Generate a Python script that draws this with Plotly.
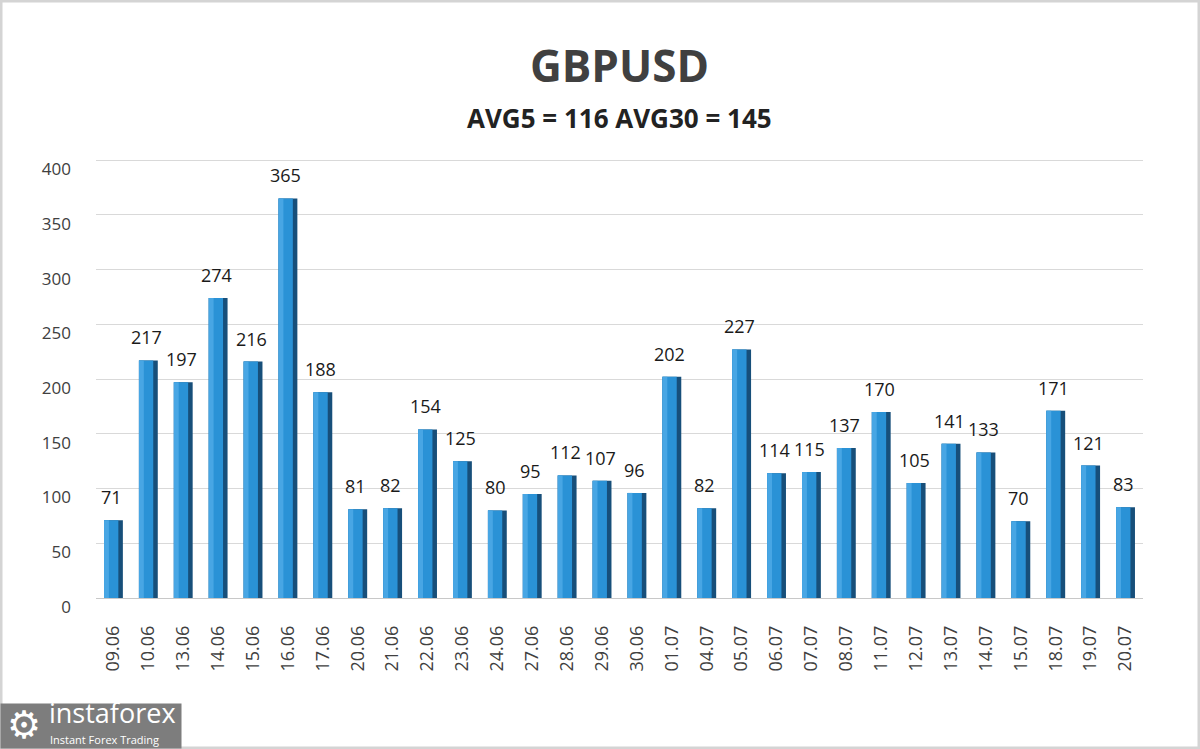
import plotly.graph_objects as go

dates = ["09.06", "10.06", "13.06", "14.06", "15.06", "16.06", "17.06", "20.06", "21.06", "22.06",
         "23.06", "24.06", "27.06", "28.06", "29.06", "30.06", "01.07", "04.07", "05.07", "06.07",
         "07.07", "08.07", "11.07", "12.07", "13.07", "14.07", "15.07", "18.07", "19.07", "20.07"]
values = [71, 217, 197, 274, 216, 365, 188, 81, 82, 154,
          125, 80, 95, 112, 107, 96, 202, 82, 227, 114,
          115, 137, 170, 105, 141, 133, 70, 171, 121, 83]
title_text = "GBPUSD"
subtitle_text = "AVG5 = 116 AVG30 = 145"
y_ticks = [0, 50, 100, 150, 200, 250, 300, 350, 400]

W, H = 1200, 749
L, R, T, B = 96, 57, 159, 151
PW, PH = W - L - R, H - T - B
FONT = "Open Sans, Arial"

fig = go.Figure()
# dark side face (3D look)
fig.add_trace(go.Bar(x=dates, y=values, width=0.54, offset=-0.27,
                     marker=dict(color="#174f7a", line=dict(width=0)),
                     hoverinfo="skip", showlegend=False))
# front face
fig.add_trace(go.Bar(x=dates, y=values, width=0.41, offset=-0.27,
                     marker=dict(color="#2a92d6", line=dict(width=0)),
                     showlegend=False))
# light highlight on left of front face
fig.add_trace(go.Bar(x=dates, y=values, width=0.14, offset=-0.27,
                     marker=dict(color="#48a6e4", line=dict(width=0)),
                     hoverinfo="skip", showlegend=False))

annotations = []
for i, v in enumerate(values):
    annotations.append(dict(x=i, y=v, xref="x", yref="y", text=str(v), showarrow=False,
                            xanchor="center", yanchor="bottom", yshift=9, xshift=-2,
                            font=dict(family=FONT, size=18, color="#1a1a1a")))

xl = -L / PW
yb = -B / PH
annotations += [
    dict(text=subtitle_text, xref="paper", yref="paper", x=0.5,
         y=(H - B - 118) / PH, yanchor="middle", showarrow=False, xanchor="center",
         font=dict(family=FONT, size=26, color="#222222", weight="bold")),
    # logo box
    dict(text=" ", xref="paper", yref="paper", x=xl, y=yb, xanchor="left", yanchor="bottom",
         showarrow=False, width=180, height=44, bgcolor="#7d7d7d", borderpad=0,
         font=dict(family=FONT, size=10, color="white")),
    dict(text="⚙", xref="paper", yref="paper", x=xl, y=yb, xanchor="center", yanchor="middle",
         xshift=24, yshift=24, showarrow=False,
         font=dict(family="DejaVu Sans", size=38, color="white")),
    dict(text="instaforex", xref="paper", yref="paper", x=xl, y=yb, xanchor="left", yanchor="bottom",
         xshift=47, yshift=16, showarrow=False,
         font=dict(family=FONT, size=27, color="white")),
    dict(text="Instant Forex Trading", xref="paper", yref="paper", x=xl, y=yb, xanchor="left",
         yanchor="bottom", xshift=48, yshift=0, showarrow=False,
         font=dict(family=FONT, size=11, color="white")),
]

fig.update_layout(
    barmode="overlay",
    width=W, height=H,
    paper_bgcolor="white", plot_bgcolor="white",
    margin=dict(l=L, r=R, t=T, b=B),
    title=dict(text=title_text, x=0.5, xref="paper", xanchor="center", y=1 - 67 / H, yanchor="middle",
               font=dict(family=FONT, size=44, color="#404040", weight="bold")),
    xaxis=dict(type="category", tickangle=-90, showgrid=False, showline=False, ticks="",
               tickfont=dict(family=FONT, size=18, color="#404040"),
               range=[-0.5, 29.5], ticklabelstandoff=23),
    yaxis=dict(range=[0, 401], tickvals=y_ticks, showgrid=True, gridcolor="#d9d9d9",
               gridwidth=1, zeroline=True, zerolinecolor="#c8c8c8", zerolinewidth=1,
               tickfont=dict(family=FONT, size=17, color="#404040"),
               ticklabelstandoff=24, ticklabelshift=9),
    annotations=annotations,
    shapes=[dict(type="rect", xref="paper", yref="paper", x0=-L / PW, x1=1 + R / PW,
                 y0=-B / PH, y1=1 + T / PH, line=dict(color="#d4d4d4", width=5), layer="above")],
)

fig.write_html("out.html", config={"displayModeBar": False},
               post_script="document.body.style.margin='0';document.body.style.overflow='hidden';")
